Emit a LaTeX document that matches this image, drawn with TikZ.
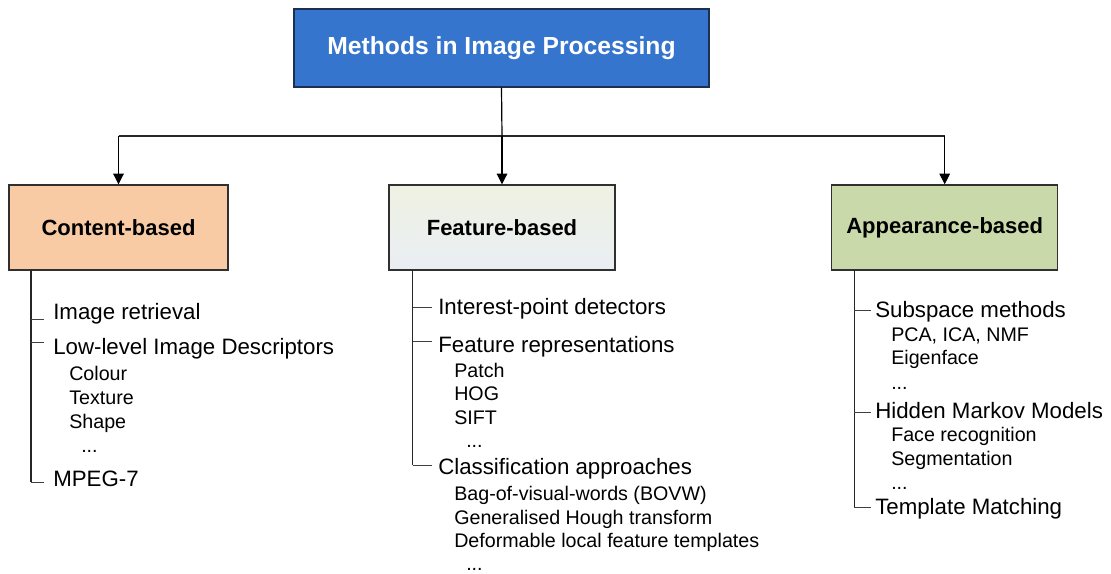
\documentclass[tikz,border=0pt]{standalone}
\usepackage{fontspec}
\setmainfont{Liberation Sans}
\usetikzlibrary{arrows.meta}
\definecolor{titleblue}{HTML}{3575CD}
\definecolor{titleedge}{HTML}{1F2F4F}
\definecolor{peach}{HTML}{F8CBA5}
\definecolor{sage}{HTML}{CAD9A9}
\definecolor{fbtop}{HTML}{EFF1E2}
\definecolor{fbbot}{HTML}{E9EEF4}
\definecolor{edgegray}{HTML}{303030}
\begin{document}
\begin{tikzpicture}[x=0.75pt,y=-0.75pt,
  box/.style={draw=edgegray, line width=1.1pt, inner sep=0pt,
    minimum width={#1*0.75pt}, minimum height={85*0.75pt},
    font=\fontsize{16.5}{18}\selectfont\bfseries},
  item/.style={anchor=west, inner sep=0pt, font=\fontsize{16.7}{18}\selectfont,
    text height=11.9pt, text depth=0pt},
  subitem/.style={anchor=west, inner sep=0pt, font=\fontsize{14.75}{16}\selectfont,
    text height=10.55pt, text depth=0pt},
  tree/.style={draw=black!85, line width=0.9pt},
  tick/.style={draw=black!75, line width=0.75pt},
  arr/.style={draw=black, line width=0.8pt, -{Triangle[length=8pt,width=8pt]}}
]
\useasboundingbox (0,0) rectangle (1111,574);

% top box
\node[draw=titleedge, line width=1.1pt, fill=titleblue, text=white, inner sep=0pt,
  minimum width={415*0.75pt}, minimum height={78*0.75pt},
  font=\fontsize{18.5}{20}\selectfont\bfseries] (title) at (501.5,48) {Methods in Image Processing};

% category boxes
\node[box=219, fill=peach] (cb) at (118.5,227.5) {Content-based};
\node[box=226, top color=fbtop, bottom color=fbbot] (fb) at (502,227.5) {Feature-based};
\node[box=226, fill=sage] (ab) at (944.7,227.5) {Appearance-based};

% bus connectors
\coordinate (bus) at (502,136);
\draw[draw=black!85, line width=0.8pt] (cb.north |- bus) -- (ab.north |- bus);
\draw[draw=black, line width=0.9pt] (title.south) -- (bus);
\draw[arr] (cb.north |- bus) -- (cb.north);
\draw[arr] (bus) -- (fb.north);
\draw[arr] (ab.north |- bus) -- (ab.north);

% ---------- Content-based list ----------
\node[item] (c1) at (53,312) {Image retrieval};
\node[item] (c2) at (53,347) {Low-level Image Descriptors};
\node[subitem] (c2a) at (69,373) {Colour};
\node[subitem] (c2b) at (69,397) {Texture};
\node[subitem] (c2c) at (69,421) {Shape};
\node[subitem] (c2d) at (81,445) {...};
\node[item] (c3) at (53,479) {MPEG-7};
\coordinate (ct) at (31,270);
\coordinate (ce1) at (44,319);
\coordinate (ce2) at (44,342);
\coordinate (ce3) at (44,482);
\draw[tree] (ct) -- (ct |- ce3);
\draw[tick] (ct |- ce1) -- (ce1);
\draw[tick] (ct |- ce2) -- (ce2);
\draw[tick] (ct |- ce3) -- (ce3);

% ---------- Feature-based list ----------
\node[item] (f1) at (438,307) {Interest-point detectors};
\node[item] (f2) at (438,345) {Feature representations};
\node[subitem] (f2a) at (454,370) {Patch};
\node[subitem] (f2b) at (454,393) {HOG};
\node[subitem] (f2c) at (454,417) {SIFT};
\node[subitem] (f2d) at (466,440) {...};
\node[item] (f3) at (438,467) {Classification approaches};
\node[subitem] (f3a) at (454,493) {Bag-of-visual-words (BOVW)};
\node[subitem] (f3b) at (454,517) {Generalised Hough transform};
\node[subitem] (f3c) at (454,540) {Deformable local feature templates};
\node[subitem] (f3d) at (466,563) {...};
\coordinate (ft) at (412.7,270);
\coordinate (fe1) at (432,307.7);
\coordinate (fe2) at (432,341);
\coordinate (fe3) at (432,465);
\draw[tree] (ft) -- (ft |- fe3);
\draw[tick] (ft |- fe1) -- (fe1);
\draw[tick] (ft |- fe2) -- (fe2);
\draw[tick] (ft |- fe3) -- (fe3);

% ---------- Appearance-based list ----------
\node[item] (a1) at (875,310) {Subspace methods};
\node[subitem] (a1a) at (891,334) {PCA, ICA, NMF};
\node[subitem] (a1b) at (891,357) {Eigenface};
\node[subitem] (a1c) at (891,382) {...};
\node[item] (a2) at (875,411) {Hidden Markov Models};
\node[subitem] (a2a) at (891,434) {Face recognition};
\node[subitem] (a2b) at (891,458) {Segmentation};
\node[subitem] (a2c) at (891,482) {...};
\node[item] (a3) at (875,507) {Template Matching};
\coordinate (at) at (854.3,270);
\coordinate (ae1) at (871,310);
\coordinate (ae2) at (871,412);
\coordinate (ae3) at (871,507);
\draw[tree] (at) -- (at |- ae3);
\draw[tick] (at |- ae1) -- (ae1);
\draw[tick] (at |- ae2) -- (ae2);
\draw[tick] (at |- ae3) -- (ae3);
\end{tikzpicture}
\end{document}
